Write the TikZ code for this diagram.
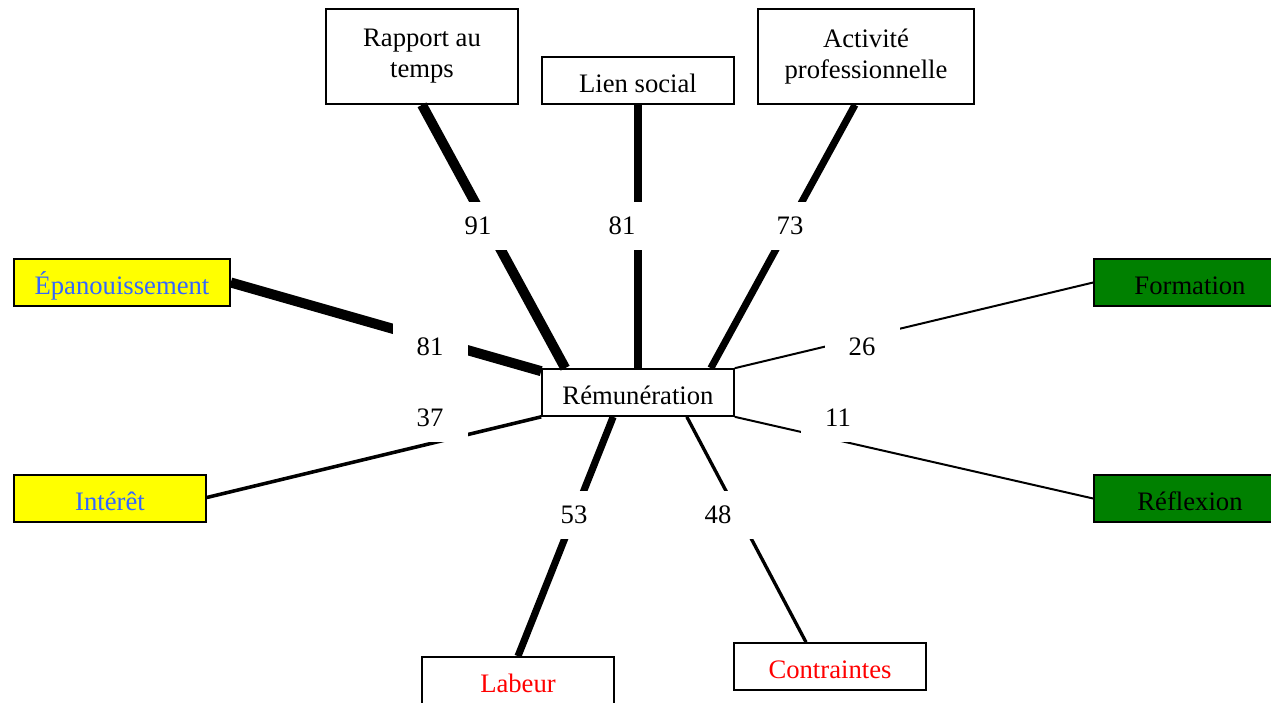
\documentclass[tikz,border=0pt]{standalone}
\usepackage{fontspec}
\setmainfont{Liberation Serif}
\usetikzlibrary{positioning,calc}
\definecolor{jaune}{RGB}{255,255,0}
\definecolor{vert}{RGB}{0,128,0}
\definecolor{bleu}{RGB}{51,102,255}
\definecolor{rouge}{RGB}{255,0,0}
\newcommand{\baisse}[1]{\raisebox{-1.4pt}[\height][\depth]{#1}}

\begin{document}
\begin{tikzpicture}[x=0.45pt,y=-0.45pt,
	boite/.style={draw,line width=0.75pt,inner sep=0pt,minimum width=86.4pt,minimum height=21.15pt,align=center,font=\fontsize{12}{14}\selectfont},
	haute/.style={minimum height=42.75pt},
	poids/.style={fill=white,inner sep=0pt,minimum width=33.75pt,minimum height=21.6pt,font=\fontsize{12}{14}\selectfont}]
	\useasboundingbox (0,0) rectangle (1271,702);
	\node[boite,haute] (rapport) at (422,56.5) {Rapport au\\temps};
	\node[boite] (lien) at (638,80.5) {\baisse{Lien social}};
	\node[boite,haute,minimum width=97.2pt] (activite) at (866,56.5) {Activité\\professionnelle};
	\node[boite,fill=jaune,text=bleu,minimum width=97.2pt] (epan) at (122,282.5) {\baisse{Épanouissement}};
	\node[boite,fill=jaune,text=bleu] (interet) at (110,498.5) {\baisse{Intérêt}};
	\node[boite,fill=vert] (formation) at (1190,282.5) {\baisse{Formation}};
	\node[boite,fill=vert] (reflexion) at (1190,498.5) {\baisse{Réflexion}};
	\node[boite] (rem) at (638,392.5) {\baisse{Rémunération}};
	\node[boite,text=rouge] (labeur) at (518,680.5) {\baisse{Labeur}};
	\node[boite,text=rouge] (contraintes) at (830,666.5) {\baisse{Contraintes}};
	% liens vers la remuneration
	\draw[line width=4.5pt] (rapport.south) -- ($(rem.north west)+(24,0)$);
	\draw[line width=4pt] (lien.south) -- (rem.north);
	\draw[line width=3.2pt] ($(activite.south)+(-11,0)$) -- ($(rem.north east)+(-24,0)$);
	\draw[line width=4.5pt] (epan.east) -- ($(rem.north west)+(0,3)$);
	\draw[line width=1.6pt] ($(interet.east)+(0,-1)$) -- (rem.south west);
	\draw[line width=0.9pt] (formation.west) -- (rem.north east);
	\draw[line width=0.9pt] (reflexion.west) -- (rem.south east);
	\draw[line width=3.2pt] (labeur.north) -- ($(rem.south west)+(72,0)$);
	\draw[line width=1.5pt] ($(contraintes.north)+(-24,0)$) -- ($(rem.south east)+(-48,0)$);
	% valeurs
	\foreach \nom/\px/\py/\val in {p1/478/226/91,p2/622/226/81,p3/790/226/73,p4/430/347/81,p5/862/347/26,p6/430/418/37,p7/838/418/11,p8/574/515/53,p9/718/515/48}{
		\node[poids] (\nom) at (\px,\py) {\val};
	}
\end{tikzpicture}
\end{document}
